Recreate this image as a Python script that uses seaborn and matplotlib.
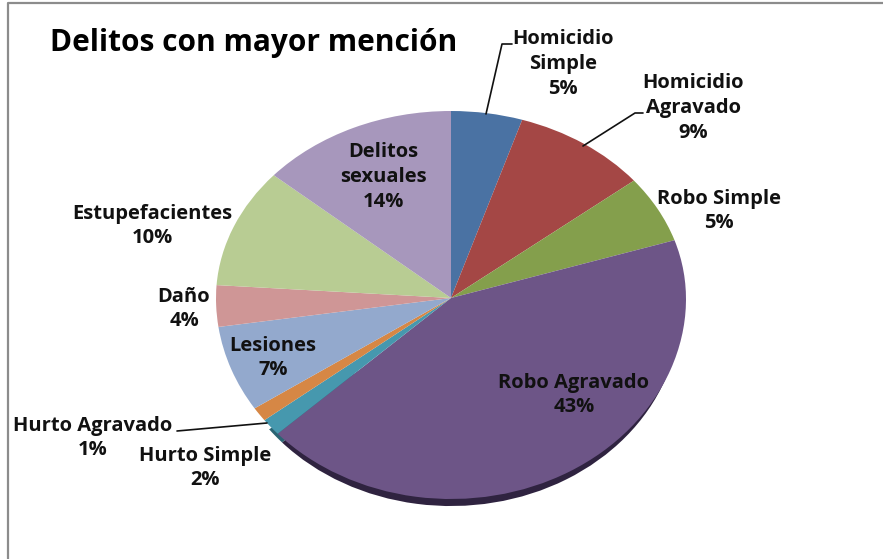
import numpy as np
import matplotlib
matplotlib.use('Agg')
import matplotlib.pyplot as plt
import seaborn as sns

# Anteile der Delikte
delitos = ['Homicidio\nSimple', 'Homicidio\nAgravado', 'Robo Simple', 'Robo Agravado',
           'Hurto Simple', 'Hurto Agravado', 'Lesiones', 'Daño', 'Estupefacientes',
           'Delitos\nsexuales']
valores = [4.9, 9.3, 5.8, 43.2, 1.4, 1.15, 6.95, 3.4, 10.3, 13.6]
etiquetas = ['5%', '9%', '5%', '43%', '2%', '1%', '7%', '4%', '10%', '14%']
colores = ['#4a72a3', '#a44745', '#849f4c', '#6d5587', '#4698ae',
           '#d68745', '#93a9cd', '#cf9696', '#b8cc93', '#a797bc']
sombra = ['#ffffff', '#ffffff', '#ffffff', '#2f2340', '#2b6473',
          '#ffffff', '#ffffff', '#ffffff', '#ffffff', '#ffffff']

# Textposition in Pixeln (Mitte)
pos_x = [563, 693, 719, 574, 205, 93, 273, 184, 152, 383]
pos_y = [64, 108, 211, 395, 468, 438, 358, 309, 226, 177]

sns.set_theme(style='white')
plt.rcParams['font.family'] = ['Open Sans', 'DejaVu Sans']

fig = plt.figure(figsize=(8.83, 5.59), dpi=100, facecolor='white')

# Tortenachse: Ellipse mit Spitze etwas über der Mitte (Perspektive)
ax = fig.add_axes([(451 - 235) / 883, 1 - 499 / 559, 470 / 883, 388 / 559])
oben, unten = 187 / 194, 201 / 194

def vor(y):
    y = np.asarray(y, dtype=float)
    return np.where(y >= 0, y * oben, y * unten)

def zurueck(y):
    y = np.asarray(y, dtype=float)
    return np.where(y >= 0, y / oben, y / unten)

# dunkler Rand unten: etwas kleinere Torte, nach unten versetzt
ax.pie(valores, colors=sombra, startangle=90, counterclock=False, radius=0.975, center=(0, -0.06),
       wedgeprops={'linewidth': 0, 'clip_on': False})
ax.pie(valores, colors=sns.color_palette(colores), startangle=90, counterclock=False,
       wedgeprops={'linewidth': 0, 'clip_on': False})
ax.set_aspect('auto')
ax.set_yscale('function', functions=(vor, zurueck))
ax.set_xlim(-1, 1)
ax.set_ylim(-1, 1)
ax.set_xticks([])
ax.set_yticks([])

# Overlay in Pixelkoordinaten für Text, Linien und Rahmen
over = fig.add_axes([0, 0, 1, 1])
over.set_xlim(0, 883)
over.set_ylim(559, 0)
over.axis('off')
over.patch.set_alpha(0)

over.plot([8, 8, 883], [559, 3, 3], color='#8c8c8c', lw=1.6)

over.plot([486, 502, 512], [114, 44, 44], color='#111111', lw=1.2)
over.plot([583, 635, 643], [146, 113, 113], color='#111111', lw=1.2)
over.plot([267, 177], [423, 431], color='#111111', lw=1.2)

over.text(50, 43, 'Delitos con mayor mención', fontsize=21.5, fontweight='bold',
          ha='left', va='center', color='black')

for nombre, pct, x, y in zip(delitos, etiquetas, pos_x, pos_y):
    over.text(x, y, nombre + '\n' + pct, fontsize=14.5, fontweight='bold', ha='center',
              va='center', color='#111111', linespacing=1.32)

fig.savefig('out.png', dpi=100)
